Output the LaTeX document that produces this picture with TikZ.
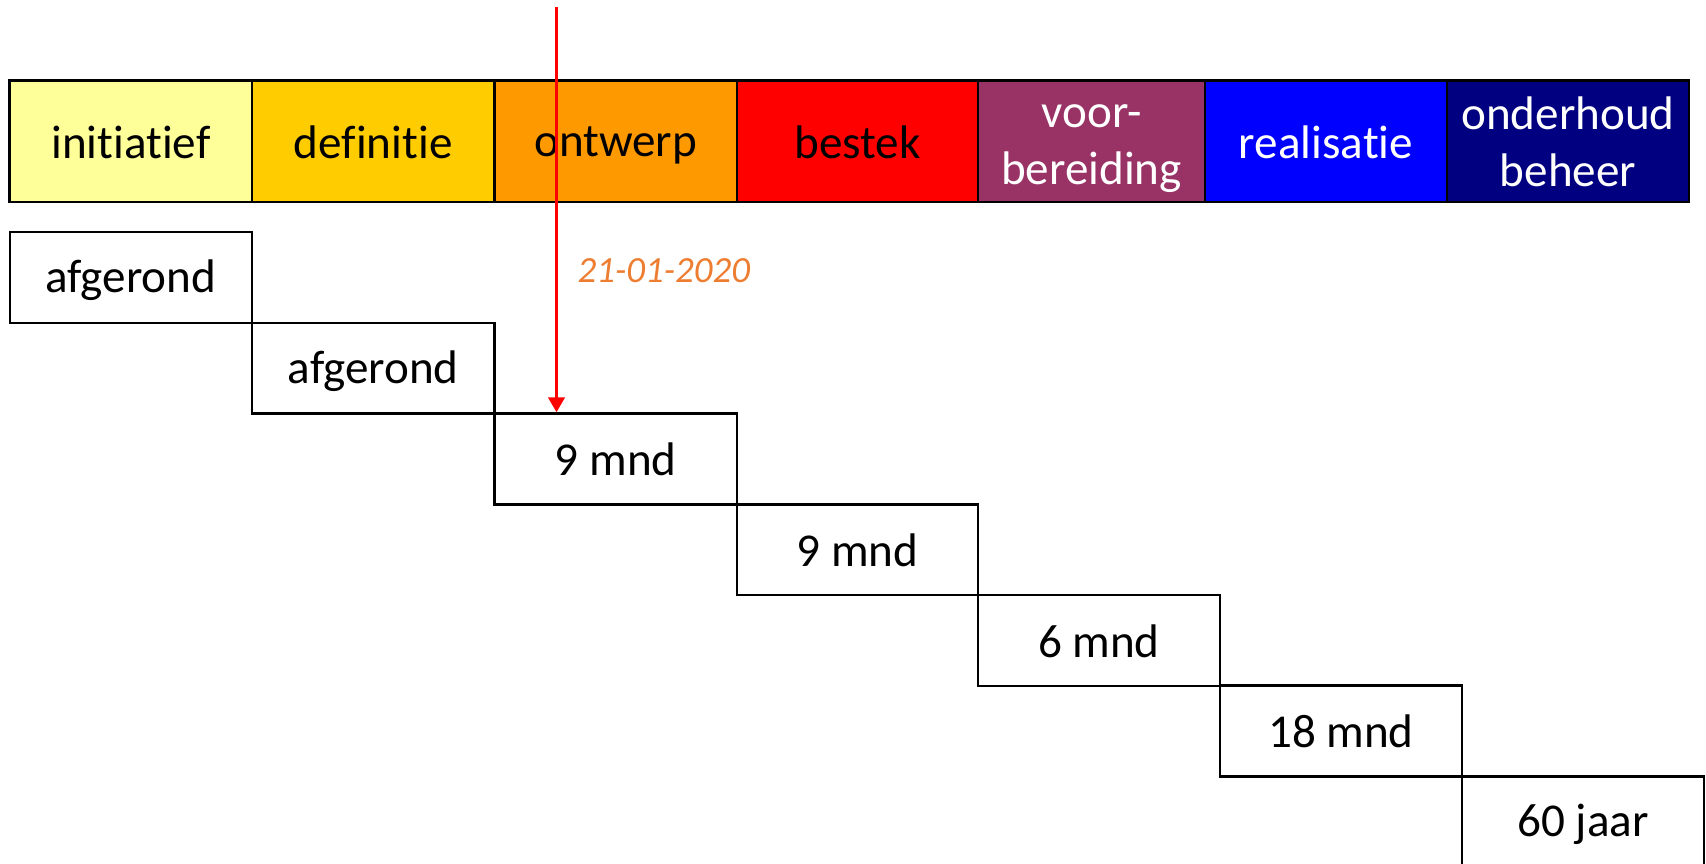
\documentclass[tikz,border=0pt]{standalone}
\usepackage{fontspec}
\setmainfont{Carlito}[Ligatures=NoCommon]
\usetikzlibrary{arrows.meta}
\usetikzlibrary{positioning}

\definecolor{initkleur}{HTML}{FFFF99}
\definecolor{defkleur}{HTML}{FFCC00}
\definecolor{ontwkleur}{HTML}{FF9900}
\definecolor{bestkleur}{HTML}{FF0000}
\definecolor{voorkleur}{HTML}{993366}
\definecolor{realkleur}{HTML}{0000FF}
\definecolor{ondkleur}{HTML}{000080}
\definecolor{datumkleur}{HTML}{ED7D31}

\newcommand{\phstrut}{\rule[-1.2pt]{0pt}{12pt}}

\begin{document}
\begin{tikzpicture}[x=0.01cm,y=-0.01cm,
  phase/.style={draw=black,line width=0.7pt,minimum height=1.21cm,inner sep=0pt,align=center,font=\fontsize{13.4}{16.3}\selectfont},
  duur/.style={draw=black,line width=0.7pt,minimum width=2.42cm,minimum height=0.907cm,inner sep=0pt,font=\fontsize{13.4}{16.3}\selectfont},
  datum/.style={text=datumkleur,font=\fontsize{10.5}{12.6}\selectfont\itshape,inner sep=0pt}]
\useasboundingbox (0,0) rectangle (1706,864);

\coordinate (p1) at (130.9,141.2);
\coordinate (p2) at (373.2,141.2);
\coordinate (p3) at (615.7,141.2);
\coordinate (p4) at (857.5,141.2);
\coordinate (p5) at (1091.5,141.2);
\coordinate (p6) at (1326,141.2);
\coordinate (p7) at (1568,141.2);
\coordinate (d1) at (130.9,277.6);
\coordinate (d2) at (373.2,368.3);
\coordinate (d3) at (615.7,459);
\coordinate (d4) at (857.5,549.7);
\coordinate (d5) at (1098.9,640.4);
\coordinate (d6) at (1340.9,731.1);
\coordinate (d7) at (1583,821.8);
\coordinate (datumtop) at (556.5,7);

  % fasen
  \node (initiatief) at (p1) [phase,fill=initkleur,minimum width=2.423cm] {\phstrut initiatief};
  \node (definitie) at (p2) [phase,fill=defkleur,minimum width=2.425cm] {\phstrut definitie};
  \node (ontwerp) at (p3) [phase,fill=ontwkleur,minimum width=2.425cm] {\phstrut ontwerp};
  \node (bestek) at (p4) [phase,fill=bestkleur,minimum width=2.41cm] {\phstrut bestek};
  \node (voorbereiding) at (p5) [phase,fill=voorkleur,text=white,minimum width=2.27cm] {\phstrut voor-\\\phstrut bereiding};
  \node (realisatie) at (p6) [phase,fill=realkleur,text=white,minimum width=2.42cm] {\phstrut realisatie};
  \node (onderhoud) at (p7) [phase,fill=ondkleur,text=white,minimum width=2.42cm] {\phstrut onderhoud\\\phstrut beheer};

  % doorlooptijden
  \node (duur1) at (d1) [duur] {\phstrut afgerond};
  \node (duur2) at (d2) [duur] {\phstrut afgerond};
  \node (duur3) at (d3) [duur] {\phstrut 9 mnd};
  \node (duur4) at (d4) [duur,minimum width=2.41cm] {\phstrut 9 mnd};
  \node (duur5) at (d5) [duur] {\phstrut 6 mnd};
  \node (duur6) at (d6) [duur] {\phstrut 18 mnd};
  \node (duur7) at (d7) [duur] {\phstrut 60 jaar};

  % peildatum
  \draw[color=red,line width=1.1pt,-{Triangle[width=4.6pt,length=4.3pt]}] (datumtop) to[] (datumtop |- duur3.north);
  \node (datumlabel) at (577,283) [datum,anchor=base west] {21-01-2020};
\end{tikzpicture}
\end{document}
